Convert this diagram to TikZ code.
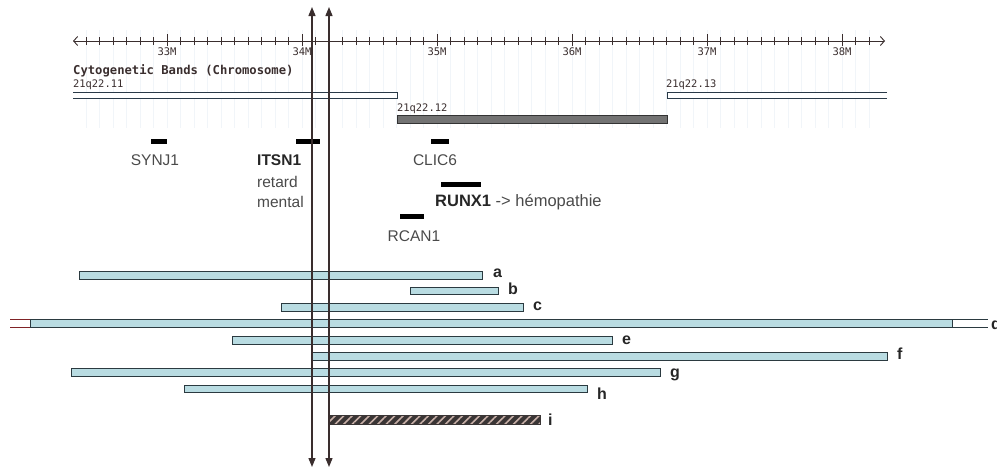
\documentclass[tikz,border=0pt]{standalone}
\usepackage{fontspec}
\setmainfont{Liberation Sans}
\setmonofont{DejaVu Sans Mono}
\usetikzlibrary{arrows.meta,patterns.meta}
\definecolor{barfill}{HTML}{B9DCE2}
\definecolor{barline}{HTML}{2B3A40}
\definecolor{rulecol}{HTML}{3A2E2E}
\definecolor{gridcol}{HTML}{F1F5F9}
\definecolor{genetxt}{HTML}{4A4A4A}
\definecolor{bandline}{HTML}{2A3A48}
\definecolor{hatchdark}{HTML}{3A3535}
\definecolor{hatchlight}{HTML}{C8B0A8}
\begin{document}
\begin{tikzpicture}[x=1pt,y=-1pt,
  tick/.style={rulecol,line width=0.8pt},
  rulerlab/.style={font=\ttfamily\fontsize{10.5}{11}\selectfont,text=rulecol,anchor=base,inner sep=0pt},
  bandlab/.style={font=\ttfamily\fontsize{10.4}{11}\selectfont,text=rulecol,anchor=base west,inner sep=0pt},
  genebar/.style={line width=5pt,black},
  genelab/.style={font=\fontsize{15.5}{18}\selectfont,text=genetxt,anchor=base,inner sep=0pt},
  genebold/.style={font=\bfseries\fontsize{15.5}{18}\selectfont,text=black!85,anchor=base west,inner sep=0pt},
  genetext/.style={font=\fontsize{15.5}{18}\selectfont,text=genetxt,anchor=base west,inner sep=0pt},
  cnvbar/.style={draw=barline,fill=barfill,line width=0.9pt},
  cnvlab/.style={font=\bfseries\fontsize{16}{18}\selectfont,text=black!85,anchor=base west,inner sep=0pt},
  vline/.style={rulecol,line width=1.3pt,{Triangle[width=7pt,length=9pt]}-{Triangle[width=7pt,length=9pt]}}
]
\useasboundingbox (0,0) rectangle (997,471);
% faint grid
\foreach \i in {0,...,58}{\draw[gridcol,line width=0.8pt] ({86+13.5*\i},30) -- ({86+13.5*\i},128);}
% ruler
\coordinate (rl) at (73,41);
\coordinate (rr) at (885,41);
\draw[rulecol,line width=0.9pt,{Straight Barb[length=4pt,width=9pt]}-{Straight Barb[length=4pt,width=9pt]}] (rl) -- (rr);
\foreach \i in {0,...,58}{\draw[tick] ({86+13.5*\i},37) -- ({86+13.5*\i},45);}
\foreach \x/\l in {167/33M,302/34M,437/35M,572/36M,707/37M,842/38M}{
  \draw[tick,line width=1pt] (\x,34) -- (\x,46);
  \node[rulerlab] (m\l) at (\x,55) {\l};
}
\node[font=\ttfamily\bfseries\fontsize{12.2}{13}\selectfont,text=rulecol,anchor=base west,inner sep=0pt] (title) at (73,74) {Cytogenetic Bands (Chromosome)};
% bands
\node[bandlab] (b11) at (73,87) {21q22.11};
\node[bandlab] (b12) at (397,111) {21q22.12};
\node[bandlab] (b13) at (666,87) {21q22.13};
\fill[white] (73,92) rectangle (397,98);
\draw[bandline,line width=0.9pt] (73,92) -- (397,92) -- (397,98) -- (73,98);
\fill[white] (667,92) rectangle (887,98);
\draw[bandline,line width=0.9pt] (887,92) -- (667,92) -- (667,98) -- (887,98);
\draw[draw=black!80,fill=black!55,line width=0.9pt] (397,115) rectangle (667,123);
% genes
\draw[genebar] (151,141) -- (167,141);
\node[genelab] (synj1) at (155,165) {SYNJ1};
\draw[genebar] (296,141) -- (320,141);
\node[genebold] (itsn1) at (257,165) {ITSN1};
\node[genetext] (retard) at (257,187) {retard};
\node[genetext] (mental) at (257,207) {mental};
\draw[genebar] (431,141) -- (449,141);
\node[genelab] (clic6) at (435,165) {CLIC6};
\draw[genebar] (441,184) -- (481,184);
\node[genetext,font=\fontsize{16.5}{18}\selectfont] (runx1) at (435,206) {\textbf{\color{black!85}RUNX1} -> hémopathie};
\draw[genebar] (400,216) -- (424,216);
\node[genelab] (rcan1) at (414,241) {RCAN1};
% CNV bars
\draw[cnvbar] (79,271) rectangle (482,279);
\node[cnvlab] (la) at (493,277) {a};
\draw[cnvbar] (410,287) rectangle (498,294);
\node[cnvlab] (lb) at (508,294) {b};
\draw[cnvbar] (281,303) rectangle (523,311);
\node[cnvlab] (lc) at (533,310) {c};
\fill[white] (10,319) rectangle (30,327);
\draw[barline!60!red,line width=0.9pt] (10,319) -- (30,319) (10,327) -- (30,327);
\fill[white] (952,319) rectangle (988,327);
\draw[barline,line width=0.9pt] (952,319) -- (988,319) (952,327) -- (988,327);
\draw[cnvbar] (30,319) rectangle (952,327);
\node[cnvlab] (ld) at (991,329) {d};
\draw[cnvbar] (232,336) rectangle (612,344);
\node[cnvlab] (le) at (622,344) {e};
\draw[cnvbar] (312,352) rectangle (887,360);
\node[cnvlab] (lf) at (897,359) {f};
\draw[cnvbar] (71,368) rectangle (660,376);
\node[cnvlab] (lg) at (670,377) {g};
\draw[cnvbar] (184,385) rectangle (587,392);
\node[cnvlab] (lh) at (597,399) {h};
\fill[hatchdark] (329,415) rectangle (540,424);
\fill[pattern={Lines[angle=45,distance=6pt,line width=1.6pt]},pattern color=hatchlight] (329,415) rectangle (540,424);
\draw[hatchdark,line width=0.9pt] (329,415) rectangle (540,424);
\node[cnvlab] (li) at (548,425) {i};
% vertical breakpoint lines
\coordinate (t1) at (312,7);
\coordinate (u1) at (312,467);
\coordinate (t2) at (329,7);
\coordinate (u2) at (329,467);
\draw[vline] (t1) -- (u1);
\draw[vline] (t2) -- (u2);
\end{tikzpicture}
\end{document}
